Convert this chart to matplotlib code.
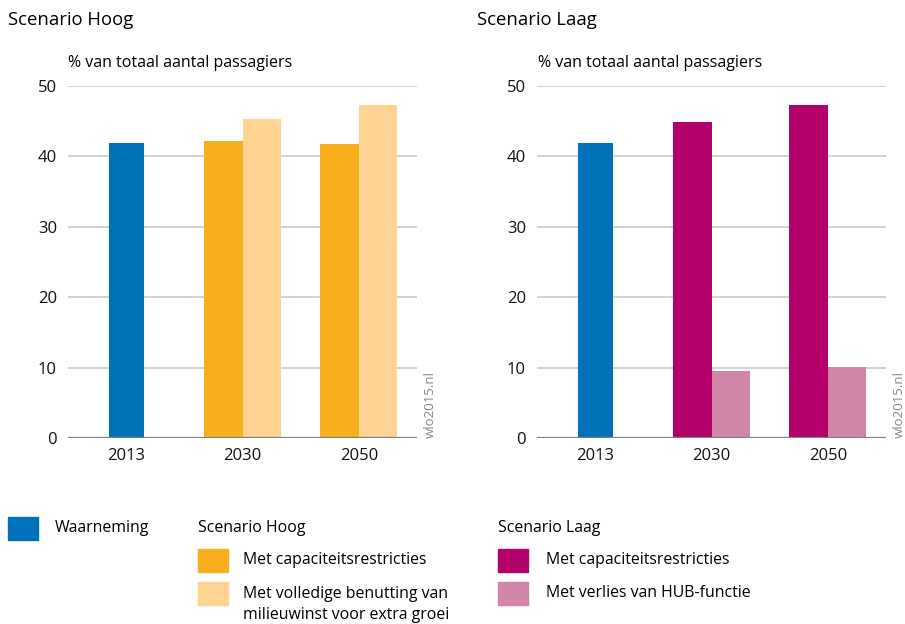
import matplotlib.pyplot as plt
from matplotlib.patches import Rectangle

plt.rcParams['font.family'] = ['Open Sans', 'DejaVu Sans']

# Data
years = ["2013", "2030", "2050"]
waarneming_2013 = 41.9
hoog_capaciteit = [42.2, 41.8]      # 2030, 2050
hoog_milieuwinst = [45.3, 47.3]
laag_capaciteit = [44.9, 47.3]
laag_hub = [9.5, 10.1]

c_blue = "#0071bb"
c_orange = "#f9ae1f"
c_lightorange = "#ffd391"
c_magenta = "#b4006a"
c_pink = "#d185a8"
c_grid = "#cccccc"

W, H = 905, 624
fig = plt.figure(figsize=(W / 100, H / 100), dpi=100)


def px_axes(x0, x1, y_top, y_bot):
    return fig.add_axes([x0 / W, 1 - y_bot / H, (x1 - x0) / W, (y_bot - y_top) / H])


def draw_panel(ax, first, second, col1, col2):
    bw = 0.33
    ax.bar(0, waarneming_2013, width=0.30, color=c_blue, zorder=3)
    pos = [1, 2]
    ax.bar([p - bw / 2 for p in pos], first, width=bw, color=col1, zorder=3)
    ax.bar([p + bw / 2 for p in pos], second, width=bw, color=col2, zorder=3)
    ax.set_xlim(-0.5, 2.5)
    ax.set_ylim(0, 50)
    ax.set_yticks([0, 10, 20, 30, 40, 50])
    ax.set_xticks([0, 1, 2])
    ax.set_xticklabels(years)
    ax.grid(axis='y', color=c_grid, linewidth=1.2, zorder=0)
    ax.axhline(0, color="#808080", linewidth=1.6, zorder=4)
    for s in ax.spines.values():
        s.set_visible(False)
    ax.tick_params(length=0, labelsize=12, colors="#111111")
    ax.tick_params(axis='y', pad=8)
    ax.tick_params(axis='x', pad=7)


ax1 = px_axes(68, 417, 86, 438)
draw_panel(ax1, hoog_capaciteit, hoog_milieuwinst, c_orange, c_lightorange)
ax2 = px_axes(537, 886, 86, 438)
draw_panel(ax2, laag_capaciteit, laag_hub, c_magenta, c_pink)

# Titles
fig.text(8 / W, 1 - 20 / H, "Scenario Hoog", fontsize=13.3, va='center', ha='left')
fig.text(477 / W, 1 - 20 / H, "Scenario Laag", fontsize=13.3, va='center', ha='left')
fig.text(68 / W, 1 - 63 / H, "% van totaal aantal passagiers", fontsize=11.5, va='center', ha='left')
fig.text(538 / W, 1 - 63 / H, "% van totaal aantal passagiers", fontsize=11.5, va='center', ha='left')

# Watermarks
for xw in (430, 899):
    fig.text(xw / W, 1 - 438 / H, "wlo2015.nl", rotation=90, fontsize=9.5,
             color="#888888", ha='center', va='bottom')

# Legend
def patch(x, y, color):
    fig.add_artist(Rectangle((x / W, 1 - (y + 23) / H), 30 / W, 23 / H,
                             transform=fig.transFigure, color=color))


def label(x, y, text):
    fig.text(x / W, 1 - y / H, text, fontsize=11.4, va='center', ha='left')


patch(8, 517, c_blue)
label(55, 528, "Waarneming")
label(198, 528, "Scenario Hoog")
patch(198, 549, c_orange)
label(243, 560, "Met capaciteitsrestricties")
patch(198, 582, c_lightorange)
label(243, 594, "Met volledige benutting van")
label(243, 615, "milieuwinst voor extra groei")
label(498, 528, "Scenario Laag")
patch(498, 549, c_magenta)
label(546, 560, "Met capaciteitsrestricties")
patch(498, 582, c_pink)
label(546, 593, "Met verlies van HUB-functie")

fig.savefig("out.png", dpi=100)
